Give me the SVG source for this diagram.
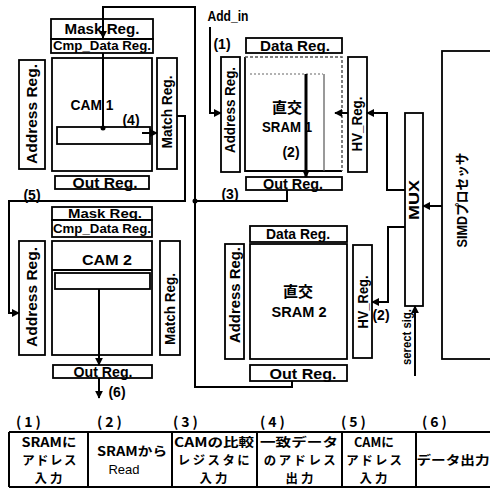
<svg xmlns="http://www.w3.org/2000/svg" width="490" height="488" viewBox="0 0 490 488">
<style>
.b{fill:none;stroke:#000;stroke-width:1.8}
.ln{fill:none;stroke:#000;stroke-width:2}
.t{font-family:"Liberation Sans","Noto Sans CJK JP",sans-serif;font-weight:bold;font-size:14px;fill:#000;text-anchor:middle}
.j{font-family:"Noto Sans CJK JP","Liberation Sans",sans-serif;font-weight:bold;font-size:14px;fill:#000;text-anchor:middle}
.c{font-family:"Noto Sans CJK JP","Liberation Sans",sans-serif;font-weight:bold;font-size:12.4px;fill:#000;text-anchor:middle}
.s{font-size:13px}
</style>
<defs>
<marker id="ah" viewBox="0 0 10 10" refX="9" refY="5" markerWidth="8" markerHeight="8" markerUnits="userSpaceOnUse" orient="auto"><path d="M0,0 L10,5 L0,10 z" fill="#000"/></marker>
</defs>
<rect width="490" height="488" fill="#fff"/>

<g id="cam1">
<rect class="b" x="51" y="19" width="102" height="20"/>
<rect class="b" x="51" y="39" width="102" height="14"/>
<rect class="b" x="52" y="58" width="100" height="113"/>
<rect class="b" x="57" y="127" width="93" height="17"/>
<rect class="b" x="19" y="60" width="26" height="109"/>
<rect class="b" x="157" y="58" width="20" height="111"/>
<rect class="b" x="55" y="176" width="94" height="13"/>
<text class="t" x="102" y="34" textLength="75" lengthAdjust="spacingAndGlyphs">Mask Reg.</text>
<text class="t s" x="102" y="50" textLength="98" lengthAdjust="spacingAndGlyphs">Cmp_Data Reg.</text>
<text class="t" x="92" y="110" textLength="43" lengthAdjust="spacingAndGlyphs">CAM 1</text>
<text class="t" transform="translate(37,114) rotate(-90)" textLength="100" lengthAdjust="spacingAndGlyphs">Address Reg.</text>
<text class="t" transform="translate(172,112) rotate(-90)" textLength="73" lengthAdjust="spacingAndGlyphs">Match Reg.</text>
<text class="t" x="105" y="188" textLength="65" lengthAdjust="spacingAndGlyphs">Out Reg.</text>
</g>

<g id="cam2">
<rect class="b" x="52" y="207" width="100" height="13"/>
<rect class="b" x="52" y="220" width="100" height="17"/>
<rect class="b" x="52" y="241" width="100" height="114"/>
<line class="b" x1="52" y1="270" x2="152" y2="270"/>
<rect class="b" x="55" y="273" width="95" height="16"/>
<rect class="b" x="19" y="241" width="26" height="114"/>
<rect class="b" x="160" y="241" width="20" height="114"/>
<rect class="b" x="53" y="365" width="99" height="13"/>
<text class="t s" x="105" y="218" textLength="74" lengthAdjust="spacingAndGlyphs">Mask Reg.</text>
<text class="t s" x="102" y="233" textLength="98" lengthAdjust="spacingAndGlyphs">Cmp_Data Reg.</text>
<text class="t" x="107" y="265" textLength="50" lengthAdjust="spacingAndGlyphs">CAM 2</text>
<text class="t" transform="translate(37,297) rotate(-90)" textLength="100" lengthAdjust="spacingAndGlyphs">Address Reg.</text>
<text class="t" transform="translate(175,309) rotate(-90)" textLength="72" lengthAdjust="spacingAndGlyphs">Match Reg.</text>
<text class="t" x="103" y="377" textLength="59" lengthAdjust="spacingAndGlyphs">Out Reg.</text>
</g>

<g id="sram1">
<rect class="b" x="246" y="38" width="96" height="15"/>
<path class="b" d="M245,57 V171 H342"/>
<path d="M245,57 H342 V171" fill="none" stroke="#555" stroke-width="1.5" stroke-dasharray="3,2"/>
<line x1="250" y1="74" x2="323" y2="74" stroke="#666" stroke-width="1.2" stroke-dasharray="2,2"/>
<line x1="324" y1="74" x2="324" y2="171" stroke="#555" stroke-width="1.2"/>
<rect class="b" x="221" y="57" width="19" height="115"/>
<rect class="b" x="348" y="57" width="19" height="115"/>
<rect class="b" x="246" y="177" width="96" height="13"/>
<text class="t" x="295" y="51" textLength="70" lengthAdjust="spacingAndGlyphs">Data Reg.</text>
<text class="t" transform="translate(235,110) rotate(-90)" textLength="86" lengthAdjust="spacingAndGlyphs">Address Reg.</text>
<text class="j" x="287" y="113" style="font-size:15px">直交</text>
<text class="t" x="287" y="132" textLength="50" lengthAdjust="spacingAndGlyphs">SRAM 1</text>
<text class="t" x="291" y="157">(2)</text>
<text class="t" transform="translate(362,124) rotate(-90)" textLength="55" lengthAdjust="spacingAndGlyphs">HV_Reg.</text>
<text class="t" x="293" y="189" textLength="60" lengthAdjust="spacingAndGlyphs">Out Reg.</text>
</g>

<g id="sram2">
<rect class="b" x="250" y="226" width="97" height="16"/>
<rect class="b" x="250" y="244" width="97" height="115"/>
<rect class="b" x="225" y="244" width="19" height="115"/>
<rect class="b" x="353" y="245" width="19" height="113"/>
<rect class="b" x="250" y="365" width="97" height="16"/>
<text class="t" x="298" y="239" textLength="64" lengthAdjust="spacingAndGlyphs">Data Reg.</text>
<text class="t" transform="translate(240,295) rotate(-90)" textLength="96" lengthAdjust="spacingAndGlyphs">Address Reg.</text>
<text class="j" x="298" y="297" style="font-size:15px">直交</text>
<text class="t" x="299" y="317" textLength="55" lengthAdjust="spacingAndGlyphs">SRAM 2</text>
<text class="t" transform="translate(368,302) rotate(-90)" textLength="53" lengthAdjust="spacingAndGlyphs">HV_Reg.</text>
<text class="t" x="303" y="379" textLength="67" lengthAdjust="spacingAndGlyphs">Out Reg.</text>
</g>

<g id="mux">
<rect class="b" x="405" y="113" width="18" height="193"/>
<text class="t" transform="translate(419,200) rotate(-90)" textLength="40" lengthAdjust="spacingAndGlyphs">MUX</text>
</g>

<g id="simd">
<rect class="b" x="442" y="51" width="60" height="308"/>
<text class="t" transform="translate(467,200) rotate(-90)" textLength="95" lengthAdjust="spacingAndGlyphs">SIMDプロセッサ</text>
</g>

<g id="connectors">
<path class="ln" d="M292,381 V387 H195 V7 H103 V38" marker-end="url(#ah)"/>
<path class="ln" d="M103,53 V128"/>
<circle cx="103" cy="128" r="2.5"/>
<path class="ln" d="M287,190 V201 H195"/>
<circle cx="195" cy="201" r="2.5"/>
<path class="ln" d="M142,133 H157" marker-end="url(#ah)"/>
<path class="ln" d="M177,116 H185 V201 H9 V313 H19" marker-end="url(#ah)"/>
<path class="ln" d="M210,27 V113 H221" marker-end="url(#ah)"/>
<path d="M306,74 V177" fill="none" stroke="#000" stroke-width="3" marker-end="url(#ah)"/>
<path class="ln" d="M348,113 H335" marker-end="url(#ah)"/>
<path class="ln" d="M405,190 H387 V113 H367" marker-end="url(#ah)"/>
<path class="ln" d="M405,227 H388 V302 H372" marker-end="url(#ah)"/>
<path class="ln" d="M442,206 H423" marker-end="url(#ah)"/>
<path class="ln" d="M415,376 V306" marker-end="url(#ah)"/>
<path class="ln" d="M99,289 V365" marker-end="url(#ah)"/>
<path class="ln" d="M99,378 V398" marker-end="url(#ah)"/>
</g>

<g id="labels">
<text class="t" x="228" y="21" textLength="41" lengthAdjust="spacingAndGlyphs">Add_in</text>
<text class="t" x="222" y="49">(1)</text>
<text class="t" x="131" y="125">(4)</text>
<text class="t" x="32" y="200">(5)</text>
<text class="t" x="230" y="199">(3)</text>
<text class="t" x="381" y="320">(2)</text>
<text class="t" x="117" y="397">(6)</text>
<text class="t s" transform="translate(411,337) rotate(-90)" textLength="56" lengthAdjust="spacingAndGlyphs">serect sig.</text>
</g>

<g id="table">
<path class="ln" d="M9,432 H490 M9,487 H490 M9,432 V487 M88,432 V487 M172,432 V487 M257,432 V487 M342,432 V487 M416,432 V487"/>
<g class="j">
<text x="30" y="427" letter-spacing="3">(1)</text>
<text x="111" y="427" letter-spacing="3">(2)</text>
<text x="187" y="427" letter-spacing="3">(3)</text>
<text x="274" y="427" letter-spacing="3">(4)</text>
<text x="355" y="427" letter-spacing="3">(5)</text>
<text x="436" y="427" letter-spacing="3">(6)</text>
</g>
<g class="c">
<text x="49" y="447" textLength="55" lengthAdjust="spacingAndGlyphs">SRAMに</text>
<text x="50" y="465" letter-spacing="1.5">アドレス</text>
<text x="50" y="483" letter-spacing="3">入力</text>
<text x="132" y="456" textLength="70" lengthAdjust="spacingAndGlyphs">SRAMから</text>
<text x="124" y="474" style="font-weight:normal;font-size:13px;font-family:'Liberation Sans',sans-serif">Read</text>
<text x="214" y="447" textLength="80" lengthAdjust="spacingAndGlyphs">CAMの比較</text>
<text x="215" y="465" letter-spacing="2.5">レジスタに</text>
<text x="215" y="483" letter-spacing="3">入力</text>
<text x="299" y="447" textLength="78" lengthAdjust="spacingAndGlyphs">一致データ</text>
<text x="301" y="465" letter-spacing="2.5">のアドレス</text>
<text x="301" y="483" letter-spacing="3">出力</text>
<text x="374" y="447" textLength="40" lengthAdjust="spacingAndGlyphs">CAMに</text>
<text x="375" y="465" letter-spacing="2">アドレス</text>
<text x="375" y="483" letter-spacing="3">入力</text>
<text x="453" y="465" textLength="73" lengthAdjust="spacingAndGlyphs">データ出力</text>
</g>
</g>
</svg>
